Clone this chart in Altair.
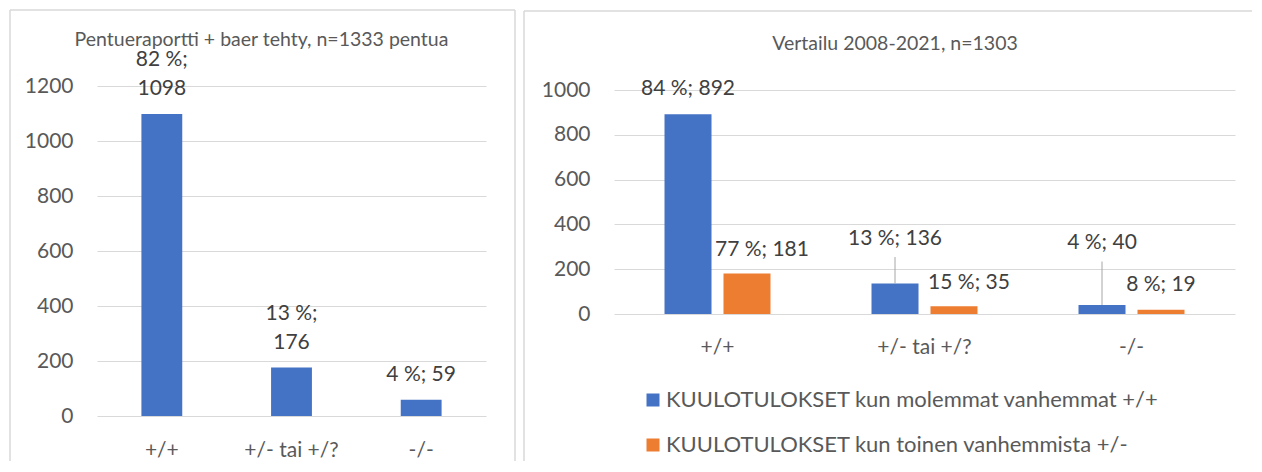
import altair as alt
import pandas as pd

# ---------------- data ----------------
categories = ["+/+", "+/- tai +/?", "-/-"]

left_title = "Pentueraportti + baer tehty, n=1333 pentua"
left_counts = [1098, 176, 59]
left_pcts = [82, 13, 4]
left_wrap = [True, True, False]

right_title = "Vertailu 2008-2021, n=1303"
series = [
    "KUULOTULOKSET kun molemmat vanhemmat +/+",
    "KUULOTULOKSET kun toinen vanhemmista +/-",
]
right_both_counts = [892, 136, 40]
right_both_pcts = [84, 13, 4]
right_one_counts = [181, 35, 19]
right_one_pcts = [77, 15, 8]

left_ticks = [0, 200, 400, 600, 800, 1000, 1200]
right_ticks = [0, 200, 400, 600, 800, 1000]

# ---------------- style ----------------
FONT = "Lato"
BLUE = "#4472C4"
ORANGE = "#ED7D31"
GRID = "#D9D9D9"
TEXT = "#595959"
LABEL = "#404040"
LEADER = "#A6A6A6"
FS = 21
LFS = 22
TFS = 19.5
LINE_H = 29

# label placement (styling, in pixels)
both_lift_px = [0, 20, 37]
one_lift_px = [0, 0, 0]
both_shift = [0, 0, 0]
one_shift = [1, 1, 0]

L_W, L_H = 389, 330
L_PPU = L_H / 1200
R_W, R_H = 621, 228
R_DOMAIN_TOP = 1018
R_PPU = R_H / R_DOMAIN_TOP


def frame(x0, x1, y0, y1, right_side=True):
    d = pd.DataFrame({"k": [0]})
    m = dict(color=GRID, strokeWidth=1.5)
    parts = [
        alt.Chart(d).mark_rule(**m).encode(x=alt.value(x0), x2=alt.value(x1), y=alt.value(y0)),
        alt.Chart(d).mark_rule(**m).encode(x=alt.value(x0), y=alt.value(y0), y2=alt.value(y1)),
    ]
    if right_side:
        parts.append(alt.Chart(d).mark_rule(**m).encode(
            x=alt.value(x1), y=alt.value(y0), y2=alt.value(y1)))
    return parts


# ---------------- left chart ----------------
left_df = pd.DataFrame({
    "category": categories,
    "count": left_counts,
    "label": [f"{p} %;" + ("\n" if w else " ") + f"{v}"
              for p, v, w in zip(left_pcts, left_counts, left_wrap)],
    "lift": [LINE_H if w else 0 for w in left_wrap],
})
left_df["label_y"] = left_df["count"] + left_df["lift"] / L_PPU

x_l = alt.X("category:N", sort=categories,
            scale=alt.Scale(paddingInner=0.685, paddingOuter=0.3425),
            axis=alt.Axis(title=None, labelAngle=0, ticks=False, tickSize=0,
                          domain=False, grid=False, labelPadding=23,
                          labelFontSize=FS, labelFont=FONT, labelColor=TEXT))
y_scale_l = alt.Scale(domain=[0, 1200], nice=False)
y_l = alt.Y("count:Q", scale=y_scale_l,
            axis=alt.Axis(title=None, values=left_ticks, format="d", ticks=False,
                          tickSize=0, domain=False, labelPadding=24,
                          gridColor=GRID, gridWidth=1.2, labelFontSize=FS,
                          labelFont=FONT, labelColor=TEXT))

base_l = alt.Chart(left_df)
title_l = alt.Chart(pd.DataFrame({"t": [left_title]})).mark_text(
    font=FONT, fontSize=TFS, color=TEXT, align="center", baseline="middle"
).encode(x=alt.value(164.5), y=alt.value(-46), text="t:N")
bars_l = base_l.mark_bar(color=BLUE).encode(x=x_l, y=y_l)
text_l = base_l.mark_text(
    font=FONT, fontSize=FS, color=LABEL, baseline="bottom", dy=-15,
    lineBreak="\n", lineHeight=LINE_H
).encode(x=x_l, y=alt.Y("label_y:Q", scale=y_scale_l), text="label:N")

left = alt.layer(*frame(-87, 418, -76, 375), title_l, bars_l, text_l).properties(
    width=L_W, height=L_H)

# ---------------- right chart ----------------
rows = []
for i, c in enumerate(categories):
    rows.append(dict(category=c, series=series[0], count=right_both_counts[i],
                     label=f"{right_both_pcts[i]} %; {right_both_counts[i]}",
                     lift=both_lift_px[i], shift=both_shift[i]))
    rows.append(dict(category=c, series=series[1], count=right_one_counts[i],
                     label=f"{right_one_pcts[i]} %; {right_one_counts[i]}",
                     lift=one_lift_px[i], shift=one_shift[i]))
right_df = pd.DataFrame(rows)
right_df["label_y"] = right_df["count"] + right_df["lift"] / R_PPU
right_df["leader_top"] = right_df["count"] + (6.5 + right_df["lift"]) / R_PPU

x_r = alt.X("category:N", sort=categories,
            scale=alt.Scale(paddingInner=0.488, paddingOuter=0.244),
            axis=alt.Axis(title=None, labelAngle=0, ticks=False, tickSize=0,
                          domain=False, grid=False, labelPadding=22,
                          labelFontSize=FS, labelFont=FONT, labelColor=TEXT))
xo_r = alt.XOffset("series:N", sort=series,
                   scale=alt.Scale(paddingInner=0.203, paddingOuter=0))
y_scale_r = alt.Scale(domain=[0, R_DOMAIN_TOP], nice=False)
y_r = alt.Y("count:Q", scale=y_scale_r,
            axis=alt.Axis(title=None, values=right_ticks, format="d", ticks=False,
                          tickSize=0, domain=False, labelPadding=24,
                          gridColor=GRID, gridWidth=1.2, labelFontSize=FS,
                          labelFont=FONT, labelColor=TEXT))

base_r = alt.Chart(right_df)
title_r = alt.Chart(pd.DataFrame({"t": [right_title]})).mark_text(
    font=FONT, fontSize=TFS, color=TEXT, align="center", baseline="middle"
).encode(x=alt.value(281), y=alt.value(-42), text="t:N")
bars_r = base_r.mark_bar().encode(
    x=x_r, xOffset=xo_r, y=y_r,
    color=alt.Color("series:N", sort=series,
                    scale=alt.Scale(domain=series, range=[BLUE, ORANGE]),
                    legend=alt.Legend(orient="none", legendX=28, legendY=303,
                                      title=None, symbolType="square",
                                      symbolSize=169, symbolStrokeWidth=0,
                                      labelFontSize=LFS, labelFont=FONT,
                                      labelColor=TEXT, labelLimit=700,
                                      rowPadding=23, labelOffset=2, padding=0)),
)
leaders_r = base_r.transform_filter("datum.lift > 0").mark_rule(
    color=LEADER, strokeWidth=1
).encode(x=x_r, xOffset=xo_r, y=alt.Y("count:Q", scale=y_scale_r),
         y2="leader_top:Q")
text_r0 = base_r.transform_filter("datum.shift == 0").mark_text(
    font=FONT, fontSize=FS, color=LABEL, baseline="bottom", dy=-15
).encode(x=x_r, xOffset=xo_r, y=alt.Y("label_y:Q", scale=y_scale_r), text="label:N")
text_r1 = base_r.transform_filter("datum.shift == 1").mark_text(
    font=FONT, fontSize=FS, color=LABEL, baseline="bottom", dy=-13, dx=15
).encode(x=x_r, xOffset=xo_r, y=alt.Y("label_y:Q", scale=y_scale_r), text="label:N")

right = alt.layer(*frame(-90, 638, -75, 375, right_side=False), title_r, bars_r,
                  leaders_r, text_r0, text_r1).properties(width=R_W, height=R_H)

chart = alt.hconcat(left, right, spacing=5).resolve_legend(
    color="independent").properties(padding=0).configure_view(stroke="transparent")

chart.save("out.html", embed_options={"renderer": "svg", "actions": False})
